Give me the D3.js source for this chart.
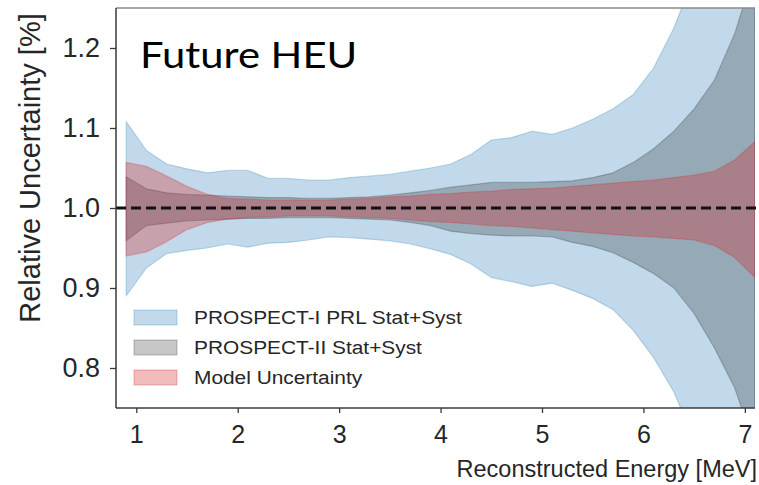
<!DOCTYPE html>
<html>
<head>
<meta charset="utf-8">
<script src="https://cdn.jsdelivr.net/npm/d3@7"></script>
<style>
  html, body { margin: 0; padding: 0; background: #fff; }
  svg { display: block; }
  .tick text { fill: #262626; font-family: "Liberation Sans", Arial, sans-serif; }
</style>
</head>
<body>
<svg id="chart" width="759" height="485"></svg>
<script>
// Reconstructed energy bin centres [MeV]
const energy = [0.9, 1.1, 1.3, 1.5, 1.7, 1.9, 2.1, 2.3, 2.5, 2.7, 2.9, 3.1, 3.3, 3.5, 3.7, 3.9,
                4.1, 4.3, 4.5, 4.7, 4.9, 5.1, 5.3, 5.5, 5.7, 5.9, 6.1, 6.3, 6.5, 6.7, 6.9, 7.1];

// PROSPECT-I PRL Stat+Syst band
const prlUpper = [1.108, 1.072, 1.055, 1.049, 1.044, 1.047, 1.047, 1.037, 1.037, 1.035, 1.035, 1.038, 1.040, 1.042, 1.046, 1.050,
                  1.055, 1.067, 1.085, 1.088, 1.096, 1.092, 1.100, 1.111, 1.124, 1.142, 1.175, 1.225, 1.29, 1.37, 1.46, 1.56];
const prlLower = [0.890, 0.925, 0.943, 0.947, 0.950, 0.955, 0.951, 0.956, 0.957, 0.960, 0.964, 0.963, 0.961, 0.959, 0.955, 0.949,
                  0.942, 0.930, 0.913, 0.908, 0.902, 0.906, 0.897, 0.887, 0.873, 0.847, 0.813, 0.770, 0.71, 0.64, 0.56, 0.47];

// PROSPECT-II Stat+Syst band
const p2Upper = [1.039, 1.024, 1.019, 1.017, 1.016, 1.015, 1.014, 1.013, 1.013, 1.012, 1.012, 1.013, 1.014, 1.016, 1.019, 1.022,
                 1.026, 1.029, 1.032, 1.032, 1.032, 1.033, 1.034, 1.038, 1.044, 1.057, 1.074, 1.096, 1.124, 1.160, 1.218, 1.30];
const p2Lower = [0.959, 0.978, 0.981, 0.984, 0.985, 0.986, 0.987, 0.987, 0.988, 0.988, 0.988, 0.987, 0.986, 0.985, 0.982, 0.978,
                 0.971, 0.968, 0.966, 0.965, 0.965, 0.964, 0.957, 0.952, 0.944, 0.932, 0.918, 0.900, 0.868, 0.825, 0.775, 0.70];

// Model uncertainty band
const modelUpper = [1.057, 1.052, 1.040, 1.027, 1.017, 1.012, 1.011, 1.010, 1.010, 1.010, 1.010, 1.011, 1.012, 1.014, 1.015, 1.017,
                    1.018, 1.020, 1.021, 1.023, 1.024, 1.025, 1.027, 1.029, 1.031, 1.033, 1.035, 1.038, 1.041, 1.046, 1.060, 1.083];
const modelLower = [0.940, 0.945, 0.958, 0.973, 0.982, 0.986, 0.988, 0.989, 0.990, 0.990, 0.990, 0.989, 0.988, 0.987, 0.985, 0.983,
                    0.982, 0.980, 0.978, 0.977, 0.975, 0.973, 0.971, 0.969, 0.967, 0.965, 0.964, 0.962, 0.960, 0.953, 0.938, 0.913];

const xTicks = [1, 2, 3, 4, 5, 6, 7];
const yTicks = [0.8, 0.9, 1.0, 1.1, 1.2];

const seriesNames = ["PROSPECT-I PRL Stat+Syst", "PROSPECT-II Stat+Syst", "Model Uncertainty"];
const seriesColors = ["#1f77b4", "#000000", "#d62728"];
const seriesAlpha = [0.28, 0.22, 0.31];

const bands = [
  { upper: prlUpper, lower: prlLower },
  { upper: p2Upper, lower: p2Lower },
  { upper: modelUpper, lower: modelLower }
];

const svg = d3.select("#chart");
const plotLeft = 116, plotRight = 755, plotTop = 8, plotBottom = 408;

const x = d3.scaleLinear().domain([0.8, 7.1]).range([plotLeft, plotRight]);
const y = d3.scaleLinear().domain([0.75, 1.25]).range([plotBottom, plotTop]);

svg.append("defs").append("clipPath").attr("id", "plotClip")
  .append("rect").attr("x", plotLeft).attr("y", plotTop)
  .attr("width", plotRight - plotLeft).attr("height", plotBottom - plotTop);

const plot = svg.append("g").attr("clip-path", "url(#plotClip)");

const area = d3.area()
  .x(d => x(d.e))
  .y0(d => y(d.lo))
  .y1(d => y(d.hi));

bands.forEach((b, i) => {
  const pts = energy.map((e, k) => ({ e, hi: b.upper[k], lo: b.lower[k] }));
  plot.append("path")
    .datum(pts)
    .attr("d", area)
    .attr("fill", seriesColors[i])
    .attr("fill-opacity", seriesAlpha[i])
    .attr("stroke", seriesColors[i])
    .attr("stroke-opacity", seriesAlpha[i] * 0.9)
    .attr("stroke-width", 1.2)
    .attr("stroke-linejoin", "round");
});

// Reference line at unity
svg.append("line")
  .attr("x1", plotLeft).attr("x2", 759)
  .attr("y1", y(1.0)).attr("y2", y(1.0))
  .attr("stroke", "#111")
  .attr("stroke-width", 3)
  .attr("stroke-dasharray", "10,5");

// Frame
svg.append("line").attr("x1", plotLeft).attr("x2", plotRight).attr("y1", plotTop).attr("y2", plotTop)
  .attr("stroke", "#8a8a8a").attr("stroke-width", 1.5);

// Axes
const yAxis = d3.axisLeft(y).tickValues(yTicks).tickFormat(d3.format(".1f")).tickSize(6).tickPadding(10);
const gy = svg.append("g").attr("transform", `translate(${plotLeft},0)`).call(yAxis);
gy.select(".domain").attr("d", `M0,${plotTop}V${plotBottom}`).attr("stroke", "#3a3a3a").attr("stroke-width", 1.5);
gy.selectAll(".tick line").attr("stroke", "#3a3a3a").attr("stroke-width", 1.3);
gy.selectAll(".tick text").attr("font-size", 27);

const xAxis = d3.axisBottom(x).tickValues(xTicks).tickFormat(d3.format("d")).tickSize(5).tickPadding(12);
const gx = svg.append("g").attr("transform", `translate(0,${plotBottom})`).call(xAxis);
gx.select(".domain").attr("d", `M${plotLeft},0H${plotRight}`).attr("stroke", "#3a3a3a").attr("stroke-width", 1.5);
gx.selectAll(".tick line").attr("stroke", "#3a3a3a").attr("stroke-width", 1.3);
gx.selectAll(".tick text").attr("font-size", 25);

// Axis titles
svg.append("text")
  .attr("transform", "translate(40,168) rotate(-90)")
  .attr("text-anchor", "middle")
  .attr("font-family", "'Liberation Sans', Arial, sans-serif")
  .attr("font-size", 29)
  .attr("fill", "#262626")
  .text("Relative Uncertainty [%]");

svg.append("text")
  .attr("x", 757).attr("y", 477)
  .attr("text-anchor", "end")
  .attr("font-family", "'Liberation Sans', Arial, sans-serif")
  .attr("font-size", 23.5)
  .attr("fill", "#262626")
  .text("Reconstructed Energy [MeV]");

// Panel title
svg.append("text")
  .attr("transform", "translate(140,68) scale(1.16,1)")
  .attr("font-family", "Lato, 'Open Sans', sans-serif")
  .attr("font-size", 36)
  .attr("fill", "#000")
  .text("Future HEU");

// Legend
const legend = svg.append("g");
seriesNames.forEach((name, i) => {
  const ly = 310 + i * 30;
  legend.append("rect")
    .attr("x", 134).attr("y", ly).attr("width", 43).attr("height", 15)
    .attr("fill", seriesColors[i]).attr("fill-opacity", seriesAlpha[i])
    .attr("stroke", seriesColors[i]).attr("stroke-opacity", seriesAlpha[i] * 0.9).attr("stroke-width", 1.2);
  legend.append("text")
    .attr("transform", `translate(194,${ly + 14}) scale(1.16,1)`)
    .attr("font-family", "'Liberation Sans', Arial, sans-serif")
    .attr("font-size", 18)
    .attr("fill", "#262626")
    .text(name);
});
</script>
</body>
</html>
